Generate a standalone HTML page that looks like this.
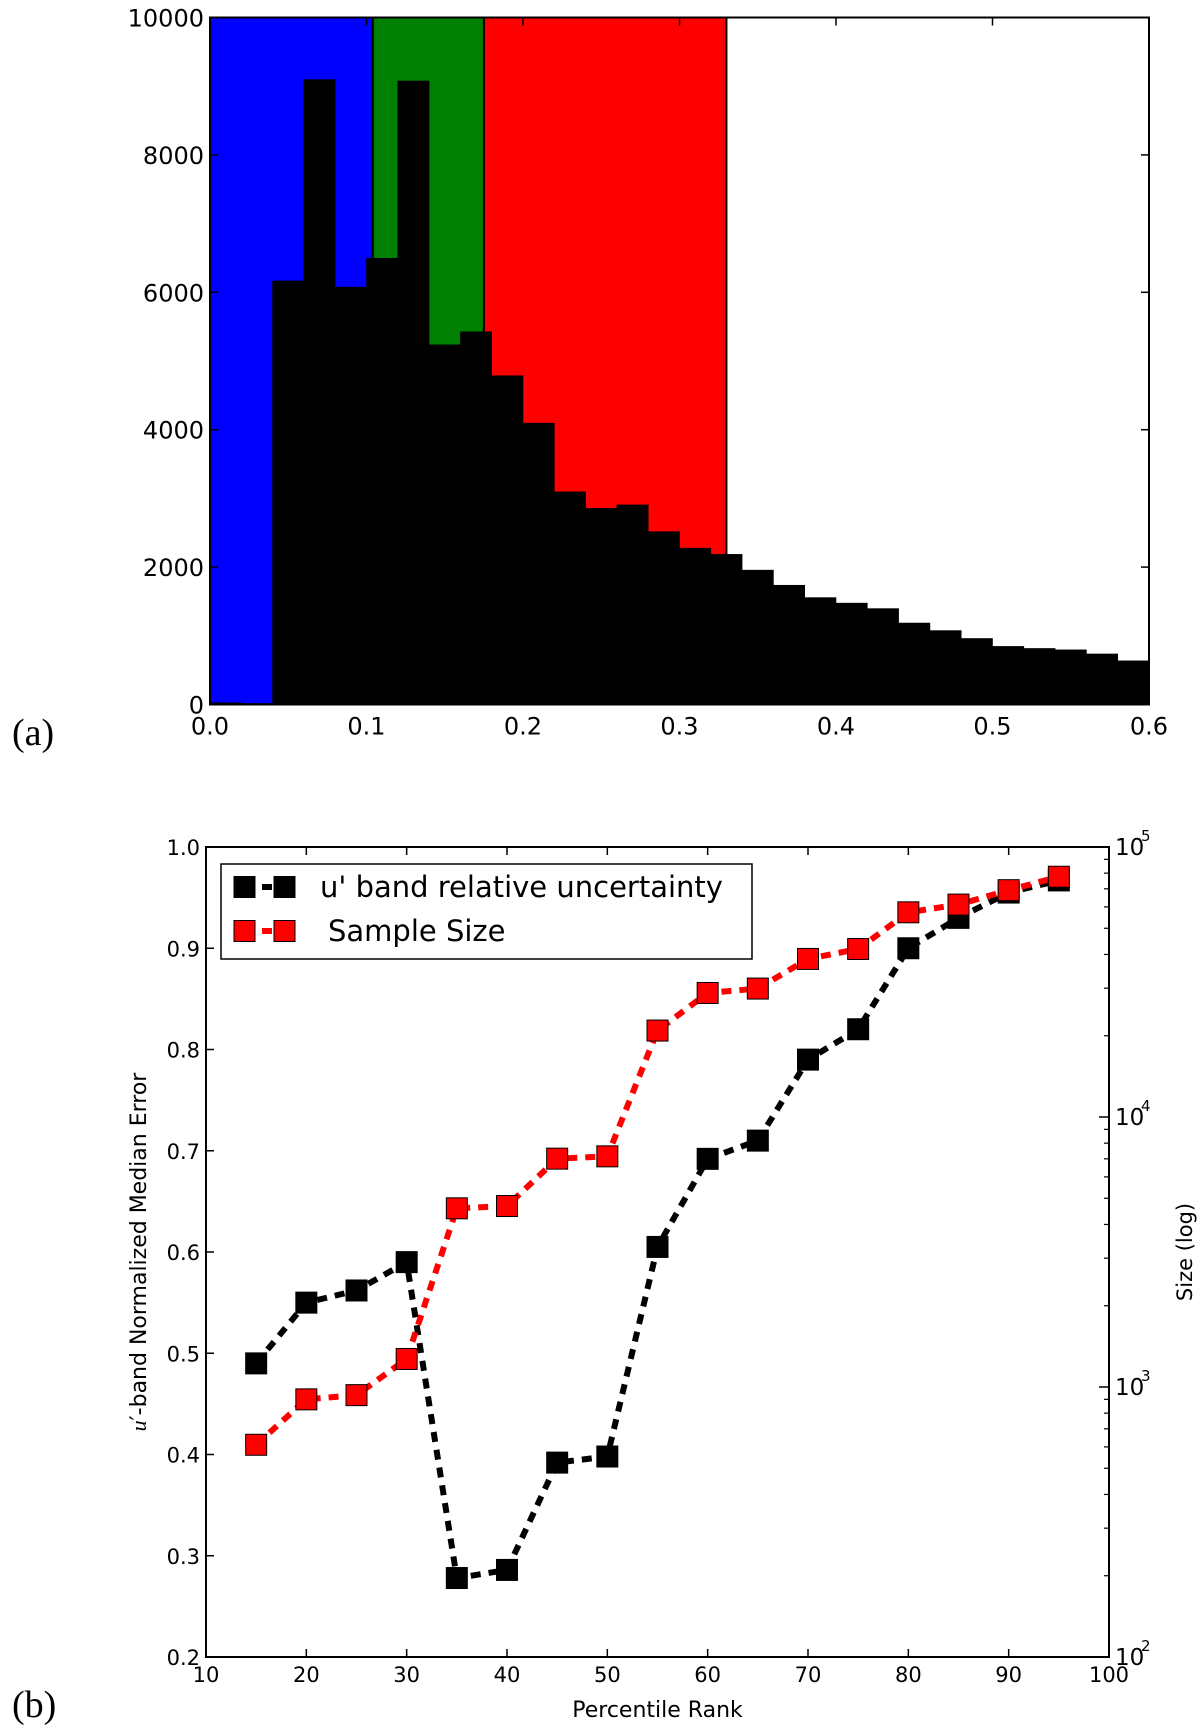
<!DOCTYPE html>
<html><head><meta charset="utf-8"><style>
html,body{margin:0;padding:0;background:#fff;}
svg{display:block;}
text{font-family:"DejaVu Sans","Liberation Sans",sans-serif;}
</style></head><body>
<svg id="fig" width="1200" height="1731" viewBox="0 0 1200 1731" xmlns="http://www.w3.org/2000/svg">
<g id="top"></g>
<g id="bot"></g>
<text x="12" y="745" style="font-family:'Liberation Serif',serif" font-size="38">(a)</text>
<text x="12" y="1717" style="font-family:'Liberation Serif',serif" font-size="38">(b)</text>
</svg>
<script>
// ---- Panel (a) data ----
const binStarts = [0.00,0.02,0.04,0.06,0.08,0.10,0.12,0.14,0.16,0.18,0.20,0.22,0.24,0.26,0.28,0.30,0.32,0.34,0.36,0.38,0.40,0.42,0.44,0.46,0.48,0.50,0.52,0.54,0.56,0.58];
const binCounts = [30,20,6170,9100,6080,6500,9080,5240,5430,4790,4100,3100,2860,2910,2520,2280,2190,1960,1740,1560,1480,1400,1190,1080,965,850,820,800,740,640];
const binWidth = 0.02;
const bandEdges = [0,0.104,0.175,0.33];
const bandColors = ["#0000ff","#008000","#ff0000"];
const histXTicks = [0.0,0.1,0.2,0.3,0.4,0.5,0.6];
const histXTickLabels = ["0.0","0.1","0.2","0.3","0.4","0.5","0.6"];
const histYTicks = [0,2000,4000,6000,8000,10000];
const histYTickLabels = ["0","2000","4000","6000","8000","10000"];

// ---- Panel (b) data ----
const percentiles = [15,20,25,30,35,40,45,50,55,60,65,70,75,80,85,90,95];
const uncertainty = [0.49,0.55,0.562,0.59,0.278,0.286,0.392,0.398,0.605,0.692,0.71,0.79,0.82,0.90,0.93,0.955,0.967];
const sampleSize = [611,900,933,1270,4590,4680,7010,7150,20900,28800,29900,38500,41900,57300,61200,69200,77600];
const pXTicks = [10,20,30,40,50,60,70,80,90,100];
const pYTicks = [0.2,0.3,0.4,0.5,0.6,0.7,0.8,0.9,1.0];
const pYTickLabels = ["0.2","0.3","0.4","0.5","0.6","0.7","0.8","0.9","1.0"];
const rExps = [2,3,4,5];

const NS="http://www.w3.org/2000/svg";
function mk(parent,tag,attrs,txt){const e=document.createElementNS(NS,tag);for(const k in attrs)e.setAttribute(k,attrs[k]);if(txt!==undefined)e.textContent=txt;parent.appendChild(e);return e;}

// ===== Panel (a) =====
(function(){
const g=document.getElementById('top');
const L=210,R=1149,T=17.5,B=704.5;
const sx=v=>L+(v-0)/(0.6-0)*(R-L);
const sy=v=>B-(v/10000)*(B-T);
for(let i=0;i<bandColors.length;i++){
  const r=mk(g,'rect',{x:sx(bandEdges[i]),y:T,width:sx(bandEdges[i+1])-sx(bandEdges[i]),height:B-T,fill:bandColors[i]});
  
  
}
for(let i=0;i<binStarts.length;i++){
  const x0=sx(binStarts[i]),x1=sx(binStarts[i]+binWidth);
  const r=mk(g,'rect',{x:x0-0.3,y:sy(binCounts[i]),width:x1-x0+0.6,height:B-sy(binCounts[i]),fill:'#000'});
  
  
}
for(let i=1;i<bandEdges.length;i++){
  const l=mk(g,'line',{x1:sx(bandEdges[i]),x2:sx(bandEdges[i]),y1:T,y2:B,stroke:'#000','stroke-width':2});
  
  
}
const fr=mk(g,'rect',{x:L,y:T,width:R-L,height:B-T,fill:'none',stroke:'#000','stroke-width':2});


histXTicks.forEach((v,i)=>{
  mk(g,'line',{x1:sx(v),x2:sx(v),y1:B,y2:B-8,stroke:'#000','stroke-width':1.5});
  mk(g,'line',{x1:sx(v),x2:sx(v),y1:T,y2:T+8,stroke:'#000','stroke-width':1.5});
  const t=mk(g,'text',{x:sx(v),y:B+30,'text-anchor':'middle','font-size':24},histXTickLabels[i]);
  
  
});
histYTicks.forEach((v,i)=>{
  mk(g,'line',{x1:L,x2:L+8,y1:sy(v),y2:sy(v),stroke:'#000','stroke-width':1.5});
  mk(g,'line',{x1:R,x2:R-8,y1:sy(v),y2:sy(v),stroke:'#000','stroke-width':1.5});
  const t=mk(g,'text',{x:L-6,y:sy(v)+9,'text-anchor':'end','font-size':24},histYTickLabels[i]);
  
  
});
})();

// ===== Panel (b) =====
(function(){
const g=document.getElementById('bot');
const L=206,R=1109,T=847,B=1657;
const sx=v=>L+(v-10)/90*(R-L);
const sy=v=>B-(v-0.2)/0.8*(B-T);
const sr=v=>B-(Math.log10(v)-2)/3*(B-T);
const fr=mk(g,'rect',{x:L,y:T,width:R-L,height:B-T,fill:'none',stroke:'#000','stroke-width':2});


pXTicks.forEach(v=>{
  mk(g,'line',{x1:sx(v),x2:sx(v),y1:B,y2:B-8,stroke:'#000','stroke-width':1.5});
  mk(g,'line',{x1:sx(v),x2:sx(v),y1:T,y2:T+8,stroke:'#000','stroke-width':1.5});
  const t=mk(g,'text',{x:sx(v),y:B+25,'text-anchor':'middle','font-size':21},String(v));
  
  
});
pYTicks.forEach((v,i)=>{
  mk(g,'line',{x1:L,x2:L+8,y1:sy(v),y2:sy(v),stroke:'#000','stroke-width':1.5});
  const t=mk(g,'text',{x:L-6,y:sy(v)+8,'text-anchor':'end','font-size':21},pYTickLabels[i]);
  
  
});
rExps.forEach(e=>{
  const y=sr(Math.pow(10,e));
  mk(g,'line',{x1:R,x2:R-10,y1:y,y2:y,stroke:'#000','stroke-width':1.5});
  const t=mk(g,'text',{x:R+6,y:y+8,'font-size':23},'10');
  
  
  mk(g,'text',{x:R+32,y:y-6,'font-size':15},String(e));
  if(e<5){for(let m=2;m<10;m++){const yy=sr(m*Math.pow(10,e));mk(g,'line',{x1:R,x2:R-5,y1:yy,y2:yy,stroke:'#000','stroke-width':1.2});}}
});
function series(vals,yf,color,name){
  const pts=percentiles.map((p,i)=>sx(p)+','+yf(vals[i])).join(' ');
  const pl=mk(g,'polyline',{points:pts,fill:'none',stroke:color,'stroke-width':6,'stroke-dasharray':'10 8'});
  
  
  percentiles.forEach((p,i)=>{
    const r=mk(g,'rect',{x:sx(p)-10.5,y:yf(vals[i])-10.5,width:21,height:21,fill:color,stroke:'#000','stroke-width':1});
    
    
  });
}
series(uncertainty,sy,'#000','uncertainty');
series(sampleSize,sr,'#ff0000','sample-size');
// legend
const lg=mk(g,'g',{});


mk(lg,'rect',{x:221,y:864,width:531,height:95,fill:'#fff',stroke:'#000','stroke-width':1.5});
[['#000',"u' band relative uncertainty",'legend-entry-uncertainty',887,320],['#ff0000',"Sample Size",'legend-entry-sample-size',931,328]].forEach(([c,lab,nm,y,tx])=>{
  const e=mk(lg,'g',{});
  
  
  mk(e,'line',{x1:244,x2:284,y1:y,y2:y,stroke:c,'stroke-width':6,'stroke-dasharray':'10 8'});
  mk(e,'rect',{x:234,y:y-10.5,width:21,height:21,fill:c,stroke:'#000','stroke-width':1});
  mk(e,'rect',{x:274,y:y-10.5,width:21,height:21,fill:c,stroke:'#000','stroke-width':1});
  mk(e,'text',{x:tx,y:y+10,'font-size':29},lab);
});
const xl=mk(g,'text',{x:(L+R)/2,y:1717,'text-anchor':'middle','font-size':22},'Percentile Rank');


const yl=mk(g,'text',{x:0,y:0,'text-anchor':'middle','font-size':22,transform:'translate(146,1252) rotate(-90)'});


mk(yl,'tspan',{'font-style':'italic',style:"font-family:'Liberation Serif',serif"},'u');
mk(yl,'tspan',{},'′-band Normalized Median Error');
const rl=mk(g,'text',{x:0,y:0,'text-anchor':'middle','font-size':21,transform:'translate(1192,1252) rotate(-90)'},'Size (log)');


})();
</script>
</body></html>
